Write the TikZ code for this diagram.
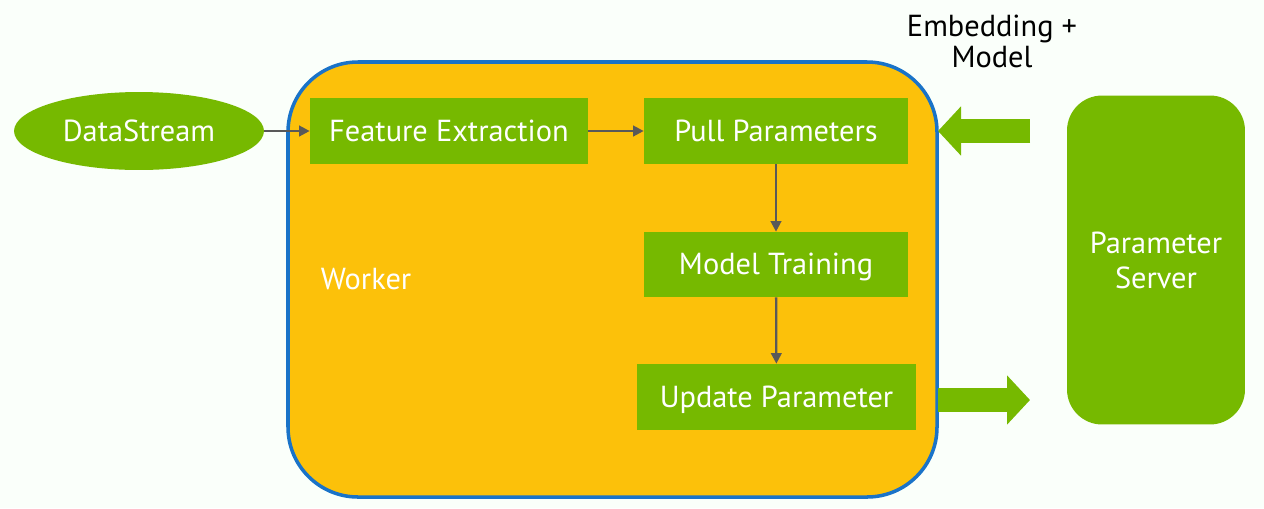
\documentclass[tikz,border=0pt]{standalone}
\usepackage{fontspec}
\setmainfont{PT Sans}
\usetikzlibrary{shapes.geometric,arrows.meta}
\definecolor{nvgreen}{HTML}{76B900}
\definecolor{workeryellow}{HTML}{FCC10A}
\definecolor{workerblue}{HTML}{1A73C8}
\definecolor{linkgray}{HTML}{595959}
\begin{document}
\begin{tikzpicture}[x=0.02cm,y=-0.02cm]
                        \tikzstyle{greenbox}=[fill=nvgreen, text=white, font=\fontsize{17.3}{20}\selectfont, minimum height=1.32cm, inner sep=0pt, text height=12pt, text depth=0.3pt]
                        \tikzstyle{link}=[draw=linkgray, line width=1.3pt, -{Triangle[length=6pt,width=6pt]}]
                        \tikzstyle{bigarrow}=[draw=nvgreen, line width=0.48cm, -{Triangle[length=0.46cm,width=0.96cm]}]
                        \useasboundingbox (0,0) rectangle (1264,508);
                        \fill[white!98!green] (0,0) rectangle (1264,508);
                        \draw[fill=workeryellow, draw=workerblue, line width=2pt, rounded corners=1.4cm] (288,62) rectangle (937,497);
                        \node[text=white, font=\fontsize{17.3}{20}\selectfont] (worker) at (366,279) {Worker};
                        \node[greenbox, ellipse, minimum width=5cm, minimum height=1.56cm] (stream) at (139,131) {DataStream};
                        \node[greenbox, minimum width=5.56cm] (extract) at (449,131) {Feature Extraction};
                        \node[greenbox, minimum width=5.28cm] (pull) at (776,131) {Pull Parameters};
                        \node[greenbox, minimum width=5.28cm, minimum height=1.3cm] (train) at (776,264.5) {Model Training};
                        \node[greenbox, minimum width=5.58cm] (update) at (776.5,397) {Update Parameter};
                        \node[greenbox, text height=, text depth=, rounded corners=0.7cm, minimum width=3.56cm, minimum height=6.58cm, align=center, font=\fontsize{17.3}{19.9}\selectfont] (server) at (1156,260) {Parameter\\Server};
                        \node[align=center, font=\fontsize{17.3}{17.6}\selectfont] (payload) at (992,41) {Embedding +\\Model};
                        \draw[link] (stream) -- (extract);
                        \draw[link] (extract) -- (pull);
                        \draw[link] (pull) -- (train);
                        \draw[link] (train) -- (update);
                        \coordinate (pullin) at (1030,131);
                        \coordinate (pullout) at (938,131);
                        \coordinate (pushin) at (938,400);
                        \coordinate (pushout) at (1030,400);
                        \draw[bigarrow] (pullin) -- (pullout);
                        \draw[bigarrow] (pushin) -- (pushout);
                    \end{tikzpicture}
\end{document}
